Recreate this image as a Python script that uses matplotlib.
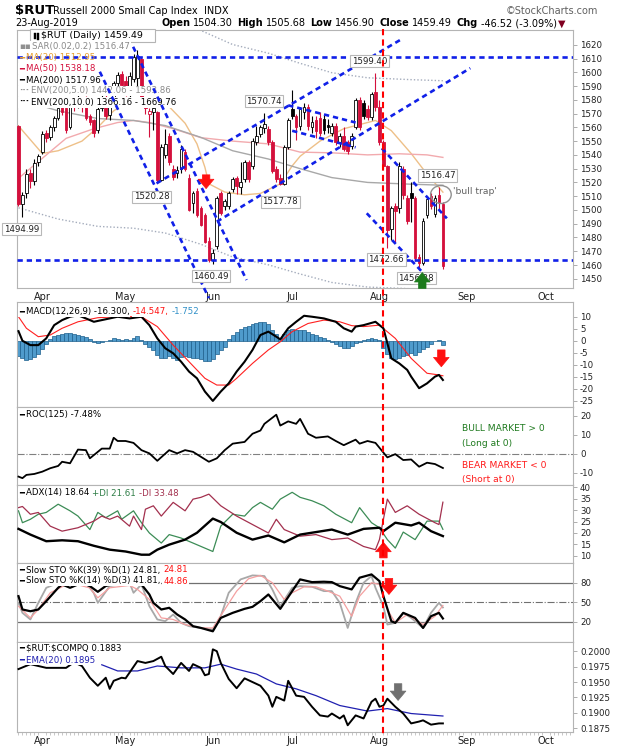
import matplotlib
matplotlib.use('Agg')
import matplotlib.pyplot as plt
import matplotlib.transforms as mtransforms
from matplotlib.patches import Rectangle, Ellipse
from matplotlib.lines import Line2D

plt.rcParams['font.family'] = ['DejaVu Sans']
plt.rcParams['axes.unicode_minus'] = False

W, H = 620, 750

# ------------------------------------------------------------------ data
# trading-day index 0 = 22-Mar-2019 ... 107 = 23-Aug-2019
opens = [1561, 1504, 1512, 1527, 1521, 1535, 1542, 1556, 1553, 1560,
         1567, 1578, 1574, 1560, 1577, 1577, 1580, 1580, 1568, 1565,
         1558, 1574, 1582, 1569, 1576, 1592, 1599, 1594, 1585, 1595,
         1596, 1610, 1580, 1570, 1571, 1571, 1522, 1540, 1554, 1530,
         1527, 1529.6, 1542, 1523.5, 1505, 1513.7, 1501.6, 1496.7, 1477.2, 1464,
         1473.5, 1512.5, 1502.8, 1502.8, 1515, 1523.5, 1517, 1522.3, 1534.5, 1532,
         1549, 1555, 1559.6, 1558.8, 1549, 1529.6, 1523.5, 1518.6, 1545.4, 1573.4,
         1568.6, 1561, 1571, 1575, 1560, 1565, 1567, 1566, 1562, 1556,
         1561, 1549, 1554, 1549, 1546.5, 1560, 1579.5, 1578, 1573.4, 1567.4,
         1585.6, 1574.7, 1549, 1532, 1486, 1503, 1501.6, 1530, 1509, 1512,
         1508.9, 1466, 1461.3, 1496, 1510, 1497, 1510.5, 1504.30]
highs = [1562, 1513, 1530, 1530, 1537, 1541, 1557, 1558, 1562, 1568,
         1576, 1580, 1576, 1578, 1581, 1585, 1582, 1583, 1570, 1566,
         1575, 1584, 1584, 1578, 1594, 1600, 1601, 1597, 1600, 1613,
         1616, 1611, 1582, 1574, 1577, 1572, 1548, 1559, 1556, 1533,
         1532, 1547, 1544, 1526, 1514, 1516, 1503, 1498, 1480, 1472,
         1510, 1514, 1508, 1514, 1524, 1525, 1534.5, 1536, 1536, 1552,
         1561, 1562, 1570.74, 1561, 1551, 1532, 1526, 1547, 1567, 1587,
         1570, 1575, 1578, 1577, 1568, 1568, 1571, 1569, 1566, 1563,
         1563, 1556, 1560, 1551, 1556, 1581, 1582, 1580, 1576, 1586,
         1599.4, 1580, 1551, 1533, 1503, 1505, 1535, 1532, 1511, 1520,
         1510, 1468, 1494, 1510, 1512, 1511, 1516.47, 1505.68]
lows = [1503, 1494.99, 1509, 1516, 1518, 1532, 1541, 1549, 1551, 1557,
        1565, 1569, 1556, 1559, 1572, 1574, 1571, 1565, 1562, 1553,
        1556, 1572, 1566, 1565, 1575, 1590, 1588, 1583, 1582, 1593,
        1590, 1578, 1570, 1553, 1558, 1520.28, 1521, 1538, 1533, 1522,
        1523, 1527, 1528, 1499, 1498, 1495, 1488, 1476, 1462, 1460.49,
        1472, 1496, 1500, 1501, 1513, 1511.5, 1511.5, 1520, 1520, 1530,
        1547, 1553, 1556, 1547, 1527, 1520, 1517.78, 1518, 1544, 1566,
        1551, 1558, 1566, 1558, 1556, 1552, 1554, 1555, 1556, 1554,
        1547, 1546, 1543, 1541, 1544, 1559, 1558, 1566, 1565, 1565,
        1572, 1547, 1530, 1472.66, 1478, 1477, 1498, 1508, 1490, 1491,
        1463, 1456.28, 1460, 1494, 1501, 1495, 1500, 1456.90]
closes = [1504.5, 1511, 1526, 1521, 1534, 1539, 1555, 1552, 1560, 1567,
          1574, 1571, 1558, 1576, 1575, 1580, 1578, 1567, 1564, 1556,
          1573, 1582, 1568, 1575, 1592, 1598, 1591, 1585, 1597, 1611,
          1612, 1580, 1574, 1572, 1574, 1521.5, 1546, 1548, 1534.5, 1524,
          1529, 1544, 1530, 1500.3, 1512.5, 1496.7, 1489.4, 1477, 1463.8, 1468.7,
          1509, 1498, 1506.4, 1512.5, 1522.3, 1517.4, 1520, 1534.5, 1522.3, 1550.3,
          1554, 1560, 1562.5, 1549, 1528.4, 1522.3, 1518.6, 1545.4, 1565, 1568.5,
          1560, 1573, 1575, 1561, 1564, 1557, 1556, 1558, 1560, 1561,
          1549, 1554, 1544, 1543, 1554, 1579.5, 1560, 1568.6, 1567.4, 1584.4,
          1574.7, 1549, 1532, 1485.7, 1501.6, 1499.5, 1532, 1511, 1492, 1509,
          1465, 1461.3, 1492.3, 1507.7, 1503, 1509, 1506.01, 1459.49]
prior_close = 1560.8

month_idx = [6, 27, 49, 69, 91, 113, 133]
month_lbl = ['Apr', 'May', 'Jun', 'Jul', 'Aug', 'Sep', 'Oct']

ma20_idx = [0, 6, 10, 16, 20, 24, 29, 33, 38, 42, 45, 47, 48, 52, 57, 61, 66, 69, 71, 76, 82, 90, 94, 99, 103, 107]
ma20_val = [1561, 1541, 1543, 1550, 1560, 1572, 1581, 1578, 1575, 1563, 1548, 1531, 1519, 1513, 1511, 1512,
            1519, 1532, 1539, 1550, 1559, 1565, 1557.6, 1541, 1526, 1512.95]
ma50_idx = [0, 12, 19, 25, 29, 33, 39, 46, 54, 63, 71, 79, 88, 96, 103, 107]
ma50_val = [1523, 1552, 1559, 1563.5, 1565, 1563.5, 1559, 1552.5, 1550, 1548, 1542, 1541.5, 1540, 1540.8, 1540, 1538.18]
ma200_idx = [0, 10, 20, 29, 37, 46, 54, 63, 71, 79, 88, 99, 107]
ma200_val = [1580.6, 1572, 1566.4, 1565, 1561.3, 1552.7, 1543, 1537, 1530, 1523.5, 1520, 1518.7, 1517.96]

macd_idx = [0, 1, 3, 5, 7, 9, 11, 13, 15, 17, 19, 21, 23, 25, 28, 31, 33, 35, 37, 39, 41, 43, 45, 47, 49,
            51, 53, 55, 57, 59, 61, 63, 65, 66, 68, 70, 72, 74, 77, 80, 82, 84, 85, 87, 90, 92, 94, 96,
            98, 99, 101, 103, 105, 106, 107]
macd_val = [4, 0, -1.8, -1.8, 1, 6.5, 8.6, 10, 10.6, 9.3, 7.9, 8.6, 9.3, 10, 9.3, 10, 6.5, 1, -3.1, -5.2,
            -8.7, -12.8, -15.6, -21.1, -25, -21.1, -17.7, -12.8, -8.7, -3.8, 2.4, 3.8, 1.7, 0.6, 5.2, 7.9,
            10.4, 10, 9.3, 7.9, 5.2, 3.8, 5.9, 6.5, 7.9, 5.2, -7.3, -9.4, -12.1, -14.9, -19.7, -17.7,
            -14.9, -14.2, -16.3]
signal_idx = [0, 2, 5, 8, 11, 15, 20, 25, 31, 35, 39, 43, 47, 50, 53, 55, 59, 63, 66, 69, 73, 77, 81, 84,
              87, 91, 95, 99, 103, 106, 107]
signal_val = [10, 5.2, 1.7, 2.4, 5.2, 7.9, 9.6, 10, 10, 5.9, -1.8, -8.7, -15.6, -18.4, -18.4, -15.6, -9.4,
              -3.8, -0.4, 3.8, 7.2, 8.6, 7.9, 6.3, 5.9, 6.5, 1, -7.3, -13.5, -14.2, -14.547]
macd_hist = [-6.5, -7.2, -7.9, -7.5, -6.8, -5.5, -3.5, -1.5, 0.6, 1.8,
             2.6, 3.0, 3.2, 3.1, 2.9, 2.6, 2.1, 1.6, 0.9, -0.5,
             -1.0, -0.6, -0.2, 0.4, 1.0, 0.8, 0.5, 0.9, 0.3, 1.0,
             1.8, 0.5, -1.2, -2.6, -4.0, -6.0, -7.3, -7.0, -6.3, -7.0,
             -7.8, -6.9, -6.5, -6.8, -7.2, -7.0, -7.6, -8.4, -8.2, -7.5,
             -5.5, -4.0, -2.5, 0.8, 2.6, 3.8, 5.0, 5.8, 6.2, 6.8,
             7.2, 7.8, 8.0, 6.8, 4.6, 2.8, 1.2, 3.0, 4.4, 4.8,
             4.6, 4.6, 4.3, 3.5, 3.0, 2.4, 1.6, 1.0, 0.5, -0.6,
             -1.4, -2.2, -3.0, -3.0, -2.0, -1.0, -0.4, 0.4, 0.7, 1.0,
             0.8, 0.2, -3.0, -5.5, -7.0, -7.6, -7.0, -6.3, -5.8, -5.0,
             -5.8, -4.8, -3.6, -2.5, -1.3, 0.0, 0.3, -1.752]

roc_idx = [0, 1, 2, 4, 6, 8, 10, 11, 13, 15, 17, 18, 19, 21, 23, 24, 25, 27, 29, 31, 33, 35, 38, 40, 42,
           44, 46, 48, 50, 52, 54, 57, 59, 61, 62, 65, 66, 68, 70, 71, 73, 75, 78, 80, 82, 85, 86, 88, 90,
           93, 95, 97, 99, 101, 103, 105, 107]
roc_val = [-12, -12.8, -11.1, -10.6, -9.4, -7.6, -6.4, -4.2, -5, 2.2, 1.9, -2.4, -0.7, 2.7, 2.7, 8.4, 6.7,
           6.7, 5.7, 1.9, 0.2, -3.7, 1.9, 0.2, 1.9, 1.0, -1.6, -4.2, -2.4, 1.9, 5.3, 6.2, 10.5, 12.2, 15.7,
           20.5, 14.8, 17, 15.7, 18.3, 10.5, 8.4, 9.1, 6.7, 4.5, 7.4, 5.3, 6.7, 5.7, -1.9, -0.2, -3.3, -3.0,
           -6.8, -4.7, -5.4, -7.48]

adx_idx = [0, 3, 7, 11, 15, 19, 23, 27, 31, 33, 35, 38, 42, 45, 49, 51, 55, 59, 63, 67, 71, 75, 79, 83,
           87, 91, 92, 95, 99, 101, 104, 107]
adx_val = [21.8, 19.3, 16.4, 16.8, 16.4, 14.4, 12.7, 11.9, 10.5, 10.5, 12.7, 14.9, 17.1, 20.1, 26.3, 24.8,
           20.1, 17.1, 18.9, 15.9, 19.3, 20.4, 21.5, 19.3, 21.8, 22.3, 20.8, 24.5, 23.3, 24.5, 20.8, 18.64]
pdi_idx = [0, 1, 3, 5, 7, 10, 13, 15, 18, 20, 22, 25, 26, 29, 31, 33, 36, 38, 41, 44, 49, 51, 54, 57, 59,
           61, 64, 66, 69, 71, 74, 77, 80, 84, 86, 89, 91, 93, 95, 97, 100, 103, 106, 107]
pdi_val = [29.7, 24.5, 26, 28.2, 29, 32.6, 29.7, 27.4, 21.5, 29, 26.7, 29.7, 26, 29.7, 24.5, 20, 15.6, 19.3,
           17.8, 15.6, 11.9, 23, 28.2, 27.4, 31.1, 33.4, 30.4, 34.8, 37.8, 35.6, 34.1, 31.9, 28.2, 24.5,
           31.1, 24.5, 22.3, 17.1, 13.4, 20.4, 17.1, 25.2, 25.2, 21.61]
mdi_idx = [0, 1, 3, 5, 8, 11, 15, 19, 21, 23, 25, 28, 29, 31, 32, 34, 36, 39, 42, 44, 46, 48, 51, 55, 59,
           63, 65, 67, 71, 75, 79, 83, 87, 90, 91, 93, 95, 98, 101, 105, 106, 107]
mdi_val = [31.1, 31.6, 28.2, 29, 23, 20.8, 22.3, 25.2, 27.4, 26, 27.4, 23, 27.4, 21.5, 30.4, 31.9, 27.4,
           33.4, 29.7, 34.8, 35.6, 37, 31.9, 27.4, 23.7, 20, 26, 21.5, 18.6, 19.3, 17.1, 17.8, 14.1, 12.7,
           17.1, 34.8, 29, 31.9, 28.2, 24.5, 23.7, 33.48]

sto39_idx = [0, 1, 3, 5, 7, 10, 11, 13, 16, 18, 20, 22, 25, 28, 31, 33, 34, 36, 38, 40, 42, 44, 46, 49, 51,
             54, 57, 59, 61, 63, 66, 69, 71, 74, 77, 79, 81, 84, 86, 89, 91, 92, 94, 95, 97, 100, 102, 104,
             106, 107]
sto39_val = [59.3, 38.7, 36, 38.7, 51.6, 72.2, 77.4, 72.2, 80, 74.8, 66, 75, 80, 77.4, 77.4, 61.9, 49, 38.7,
             41.3, 31, 23.3, 12.9, 10.2, 5, 25.7, 33.5, 39.7, 42.8, 51.6, 61.9, 39.7, 67.1, 85.2, 81, 81.6,
             81, 74.8, 69.7, 87.8, 92.9, 82.6, 59.3, 20.6, 18, 33.5, 25.7, 10.2, 28.3, 33.5, 24.81]
sto14k_idx = [0, 1, 3, 5, 7, 12, 17, 19, 20, 23, 28, 29, 31, 33, 35, 37, 39, 41, 43, 46, 49, 51, 53, 56, 59,
              62, 64, 66, 69, 71, 74, 77, 79, 81, 83, 85, 87, 89, 90, 92, 93, 95, 97, 99, 102, 104, 106, 107]
sto14k_val = [49, 33.5, 23.3, 49, 72.2, 85, 80, 64, 49, 74.8, 80, 64.5, 77.4, 43.8, 23.3, 20.6, 31, 18, 12.9,
              10.2, 7.6, 28.3, 64.5, 85.2, 91.4, 90.4, 69.7, 43.8, 72.2, 74.8, 73.8, 67.1, 67.1, 49, 10.2,
              49, 80, 90.4, 72.2, 43.8, 15.4, 18, 33.5, 25.7, 10.2, 33.5, 49, 41.81]
sto14d_idx = [0, 3, 5, 8, 13, 18, 20, 23, 28, 30, 33, 36, 39, 42, 46, 49, 52, 55, 58, 61, 64, 67, 69, 72,
              75, 78, 81, 84, 86, 89, 91, 93, 95, 98, 100, 102, 105, 107]
sto14d_val = [43.8, 25.7, 38.7, 64.5, 80, 72, 56.7, 72.2, 75.9, 69.7, 54.2, 25.7, 23.3, 15.4, 10.2, 10.2,
              38.7, 67.1, 86.2, 91.4, 80, 54.2, 64.5, 73.8, 73.8, 67.1, 59.3, 28.3, 59.3, 80, 77.4, 38.7, 18,
              30.9, 23.3, 15.4, 28.3, 44.86]

ratio_idx = [0, 3, 7, 12, 14, 16, 18, 20, 22, 23, 24, 26, 27, 30, 32, 34, 36, 37, 39, 41, 43, 44, 46, 47,
             48, 49, 50, 51, 53, 55, 57, 59, 61, 63, 64, 65, 67, 68, 70, 72, 74, 76, 78, 79, 81, 82, 83, 85,
             87, 89, 90, 91, 92, 93, 95, 97, 99, 101, 102, 104, 106, 107]
ratio_val = [0.1971, 0.1979, 0.1973, 0.1973, 0.1982, 0.1976, 0.1957, 0.1944, 0.1957, 0.1939, 0.1952,
             0.1957, 0.1956, 0.1984, 0.1981, 0.1984, 0.1991, 0.1976, 0.1963, 0.1981, 0.1968, 0.1979,
             0.1973, 0.1961, 0.1963, 0.2003, 0.2000, 0.1981, 0.1955, 0.1940, 0.1956, 0.1950, 0.1944,
             0.1928, 0.1910, 0.1926, 0.1920, 0.1952, 0.1928, 0.1926, 0.1910, 0.1896, 0.1894, 0.1899,
             0.1891, 0.1896, 0.1880, 0.1896, 0.1891, 0.1918, 0.1923, 0.1910, 0.1912, 0.1923, 0.1910,
             0.1899, 0.1883, 0.1886, 0.1888, 0.1881, 0.1883, 0.1883]
ema_idx = [21, 25, 30, 35, 41, 47, 51, 55, 60, 65, 70, 75, 81, 88, 93, 99, 107]
ema_val = [0.1978, 0.1968, 0.1968, 0.1976, 0.1973, 0.1973, 0.1979, 0.1971, 0.1963, 0.1947, 0.1939, 0.1928,
           0.1912, 0.1903, 0.1907, 0.1899, 0.1895]

# annotations (chart markup)
trend_lines = [((-0.5, 1611), (139.8, 1611)),
               ((-0.5, 1463.5), (139.8, 1463.5)),
               ((20.5, 1600.4), (48.0, 1436)),
               ((28.9, 1618.5), (57.5, 1449.1)),
               ((34.8, 1519.3), (96.2, 1623.4)),
               ((50.0, 1491.5), (113.9, 1603)),
               ((68, 1576), (85, 1563.5)),
               ((69, 1557.5), (85, 1545.5)),
               ((91.6, 1544.8), (108, 1493.9)),
               ((87.8, 1497.6), (102.1, 1454))]
price_labels = [('1494.99', 0.8, 1486), ('1520.28', 33.6, 1509.5), ('1460.49', 48.5, 1452),
                ('1570.74', 61.9, 1579), ('1517.78', 66.0, 1506), ('1599.40', 88.5, 1608),
                ('1516.47', 105.7, 1525), ('1472.66', 92.7, 1464), ('1456.28', 100.3, 1450.5)]
event_idx = 91.85

# ------------------------------------------------------------------ figure
fig = plt.figure(figsize=(W / 100, H / 100), dpi=100)
fig.patch.set_facecolor('white')
renderer = fig.canvas.get_renderer()

LEFT, RIGHT = 16.5, 573.0


def axrect(top, bottom):
    return [LEFT / W, 1 - bottom / H, (RIGHT - LEFT) / W, (bottom - top) / H]


ax_p = fig.add_axes(axrect(30, 288.3))
ax_m = fig.add_axes(axrect(302.3, 406.7))
ax_r = fig.add_axes(axrect(406.7, 485))
ax_a = fig.add_axes(axrect(485, 562.7))
ax_s = fig.add_axes(axrect(562.7, 642.3))
ax_c = fig.add_axes(axrect(642.3, 732.3))
axes = [ax_p, ax_m, ax_r, ax_a, ax_s, ax_c]
XMIN, XMAX = -0.5, 139.8
for ax in axes:
    ax.set_xlim(XMIN, XMAX)
    for sp in ax.spines.values():
        sp.set_color('#b4b4b4')
        sp.set_linewidth(0.8)
    ax.yaxis.tick_right()
    ax.tick_params(axis='y', which='both', labelsize=6.2, length=3, width=0.6, color='#a0a0a0',
                   pad=2, labelcolor='#202020')
    ax.set_xticks(month_idx)
    ax.tick_params(axis='x', length=0, labelbottom=False)

for ax in (ax_p, ax_c):
    ax.set_xticklabels(month_lbl)
    ax.tick_params(axis='x', labelbottom=True, labelsize=7, pad=3, labelcolor='#202020')
ax_c.set_xticks(list(range(0, 140)), minor=True)
ax_c.tick_params(axis='x', which='minor', length=2, width=0.5, color='#b0b0b0')

RED = '#d4103c'

# ---- price panel
ax_p.set_ylim(1443.1, 1630.7)
ax_p.set_yticks(list(range(1450, 1621, 10)))
prev = [prior_close] + closes[:-1]
for i in range(len(closes)):
    o, h, l, c = opens[i], highs[i], lows[i], closes[i]
    col = RED if c < prev[i] else 'black'
    filled = c < o
    ax_p.plot([i, i], [l, h], color=col, lw=0.8, zorder=3, solid_capstyle='butt')
    lo, hi = min(o, c), max(o, c)
    if hi - lo < 0.5:
        hi = lo + 0.5
    ax_p.add_patch(Rectangle((i - 0.34, lo), 0.68, hi - lo, facecolor=col if filled else 'white',
                             edgecolor=col, lw=0.6, zorder=4))

env5_lo = [0.95 * v for v in ma200_val]
env5_hi = [1.05 * v for v in ma200_val]
env10_lo = [0.90 * v for v in ma200_val]
env10_hi = [1.10 * v for v in ma200_val]
ax_p.plot(ma20_idx, ma20_val, color='#eec088', lw=1.0, zorder=2)
ax_p.plot(ma50_idx, ma50_val, color='#f2aaae', lw=1.0, zorder=2)
ax_p.plot(ma200_idx, ma200_val, color='#a8a8a8', lw=1.0, zorder=2)
for e in (env5_lo, env5_hi):
    ax_p.plot(ma200_idx, e, color='#a4acbc', lw=1.0, ls=(0, (1, 1.5)), zorder=2)
for e in (env10_lo, env10_hi):
    ax_p.plot(ma200_idx, e, color='#404040', lw=1.0, ls=(0, (1, 1.5)), zorder=2)

for (x0, y0), (x1, y1) in trend_lines:
    ax_p.plot([x0, x1], [y0, y1], color='#1020e8', lw=1.9, ls=(0, (2.0, 1.5)), zorder=6,
              clip_on=(y1 > 1440))

for s, xx, yy in price_labels:
    ax_p.text(xx, yy, s, fontsize=6.2, ha='center', va='center', color='#202020', zorder=7,
              bbox=dict(boxstyle='square,pad=0.18', fc='white', ec='#b8b8b8', lw=0.8))

ax_p.add_patch(Ellipse((106.5, 1511.2), 5.2, 13.0, fill=False, ec='#909090', lw=1.0, zorder=7))
ax_p.text(109.6, 1513.5, "'bull trap'", fontsize=6.6, color='#606060', va='center', zorder=7)


def arrow(ax, x, tail, tip, color, scale=9):
    ax.annotate('', xy=(x, tip), xytext=(x, tail), zorder=8, annotation_clip=False,
                arrowprops=dict(arrowstyle='simple,head_width=1.25,head_length=0.75,tail_width=0.6',
                                fc=color, ec=color, lw=0.5, mutation_scale=scale, shrinkA=0, shrinkB=0))


arrow(ax_p, 47.3, 1525.5, 1515.5, '#ff1010')
arrow(ax_p, 101.8, 1443.0, 1454.5, '#1b7a1b')

# ---- MACD
xs = list(range(len(macd_hist)))
ax_m.bar(xs, macd_hist, width=1.0, color='#4f9bcc', edgecolor='#1d5f8c', lw=0.5, zorder=2)
ax_m.plot(signal_idx, signal_val, color='#ff2020', lw=0.8, zorder=3)
ax_m.plot(macd_idx, macd_val, color='black', lw=1.5, zorder=4)
ax_m.set_ylim(-27.4, 16)
ax_m.set_yticks([10, 5, 0, -5, -10, -15, -20, -25])
arrow(ax_m, 106.6, -3.8, -10.8, '#ff1010')

# ---- ROC
ax_r.axhline(0, color='#808080', lw=0.8, ls='-.', zorder=1)
ax_r.plot(roc_idx, roc_val, color='black', lw=1.3, zorder=3)
ax_r.set_ylim(-16.4, 24.7)
ax_r.set_yticks([20, 10, 0, -10])

# ---- ADX
ax_a.plot(pdi_idx, pdi_val, color='#3c8c56', lw=0.9, zorder=2)
ax_a.plot(mdi_idx, mdi_val, color='#a3304e', lw=0.9, zorder=2)
ax_a.plot(adx_idx, adx_val, color='black', lw=1.7, zorder=3)
ax_a.set_ylim(7, 41)
ax_a.set_yticks([40, 35, 30, 25, 20, 15, 10])
arrow(ax_a, 92.0, 9.1, 15.9, '#ff1010')

# ---- STO
ax_s.axhline(80, color='#707070', lw=0.9, zorder=1)
ax_s.axhline(20, color='#707070', lw=0.9, zorder=1)
ax_s.axhline(50, color='#707070', lw=0.8, ls='-.', zorder=1)
ax_s.plot(sto14k_idx, sto14k_val, color='#a8a8a8', lw=1.3, zorder=2)
ax_s.plot(sto14d_idx, sto14d_val, color='#f4a0a0', lw=0.9, zorder=2)
ax_s.plot(sto39_idx, sto39_val, color='black', lw=1.6, zorder=3)
ax_s.set_ylim(-12, 111)
ax_s.set_yticks([80, 50, 20])
arrow(ax_s, 93.4, 86.7, 61.9, '#ff1010')

# ---- ratio
ax_c.plot(ema_idx, ema_val, color='#2020b0', lw=0.9, zorder=2)
ax_c.plot(ratio_idx, ratio_val, color='black', lw=1.4, zorder=3)
ax_c.set_ylim(0.18686, 0.20144)
ax_c.set_yticks([0.2000, 0.1975, 0.1950, 0.1925, 0.1900, 0.1875])
ax_c.set_yticklabels(['%.4f' % v for v in [0.2000, 0.1975, 0.1950, 0.1925, 0.1900, 0.1875]])
arrow(ax_c, 95.7, 0.19473, 0.19202, '#707070')

# ---- red dashed event line across all panels
tr = mtransforms.blended_transform_factory(ax_p.transData, fig.transFigure)
fig.add_artist(Line2D([event_idx, event_idx], [1 - 29 / H, 1 - 736 / H], transform=tr,
                      color='#ff0000', lw=1.5, ls=(0, (3, 2)), zorder=20))


# ------------------------------------------------------------------ texts
def rich(ax, x, y, parts, size=6.2, bg=True, zorder=5):
    fx, fy = x / W, 1 - y / H
    for part in parts:
        s, c, wt = part[0], part[1], part[2]
        gap = part[3] if len(part) > 3 else 3.2
        t = ax.text(fx, fy, s, transform=fig.transFigure, color=c, fontsize=size, fontweight=wt,
                    ha='left', va='center', zorder=zorder, clip_on=False,
                    bbox=dict(boxstyle='square,pad=0.1', fc='white', ec='none') if bg else None)
        bb = t.get_window_extent(renderer=renderer)
        fx += (bb.width + gap) / W
    return fx * W


# header
rich(ax_p, 15, 10.5, [('\\$RUT', 'black', 'bold', 4)], size=9.5, bg=False)
rich(ax_p, 53, 11, [('Russell 2000 Small Cap Index', 'black', 'normal', 6), ('INDX', 'black', 'normal')],
     size=7.0, bg=False)
rich(ax_p, 506, 11, [('\u00a9StockCharts.com', '#606060', 'normal')], size=7.0, bg=False)
rich(ax_p, 15, 23.5, [('23-Aug-2019', 'black', 'normal')], size=7.0, bg=False)
rich(ax_p, 161, 23.5, [('Open', 'black', 'bold', 2.5), ('1504.30', 'black', 'normal', 5),
                       ('High', 'black', 'bold', 2.5), ('1505.68', 'black', 'normal', 5),
                       ('Low', 'black', 'bold', 2.5), ('1456.90', 'black', 'normal', 5),
                       ('Close', 'black', 'bold', 2.5), ('1459.49', 'black', 'normal', 5),
                       ('Chg', 'black', 'bold', 2.5), ('-46.52 (-3.09%)', 'black', 'normal', 1),
                       ('\u25bc', '#800020', 'normal')], size=7.0, bg=False)

# price legend
ax_p.add_patch(Rectangle((30 / W, 1 - 41.5 / H), 125 / W, 12 / H, transform=fig.transFigure,
                         fc='white', ec='#b4b4b4', lw=0.8, zorder=5, clip_on=False))
for k, hgt in enumerate([5, 7]):
    ax_p.add_patch(Rectangle(((33.5 + 3 * k) / W, 1 - (39.5 - (7 - hgt) / 2) / H), 2 / W, hgt / H,
                             transform=fig.transFigure, fc='black', ec='black', lw=0.3, zorder=6,
                             clip_on=False))
rich(ax_p, 41, 35.5, [('\\$RUT (Daily) 1459.49', 'black', 'normal')], size=6.8, bg=False, zorder=6)
legend_rows = [
    (46.5, '\u25aa\u25aa', '#909090', [('SAR(0.02,0.2) 1516.47', '#8a8a8a', 'normal')], True, 5),
    (57.5, '\u2501', '#e8a030', [('MA(20) 1512.95', '#e8a030', 'normal')], False, 7),
    (68.8, '\u2501', RED, [('MA(50) 1538.18', RED, 'normal')], True, 5),
    (80.0, '\u2501', 'black', [('MA(200) 1517.96', 'black', 'normal')], True, 5),
    (91.0, '\u00b7\u00b7\u00b7', '#909090', [('ENV(200,5.0) 1442.06 - 1593.86', '#8a8a8a', 'normal')], True, 5),
    (102.2, '\u00b7\u00b7\u00b7', 'black', [('ENV(200,10.0) 1366.16 - 1669.76', 'black', 'normal')], True, 5),
]
for yy, sw, swc, parts, bg, zo in legend_rows:
    rich(ax_p, 19, yy, [(sw, swc, 'bold', 1.5)] + parts, bg=bg, zorder=zo)

# indicator legends
rich(ax_m, 19, 312, [('\u2501', 'black', 'bold', 1.5), ('MACD(12,26,9) -16.300,', 'black', 'normal'),
                     ('-14.547,', '#ff1010', 'normal'), ('-1.752', '#3090c8', 'normal')])
rich(ax_r, 19, 415, [('\u2501', 'black', 'bold', 1.5), ('ROC(125) -7.48%', 'black', 'normal')])
rich(ax_a, 19, 493, [('\u2501', 'black', 'bold', 1.5), ('ADX(14) 18.64', 'black', 'normal'),
                     ('+DI 21.61', '#2e7d46', 'normal'), ('-DI 33.48', '#a3304e', 'normal')])
rich(ax_s, 19, 570, [('\u2501', 'black', 'bold', 1.5), ('Slow STO %K(39) %D(1) 24.81,', 'black', 'normal'),
                     ('24.81', '#ff1010', 'normal')])
rich(ax_s, 19, 581, [('\u2501', 'black', 'bold', 1.5), ('Slow STO %K(14) %D(3) 41.81,', 'black', 'normal'),
                     ('44.86', '#ff1010', 'normal')])
rich(ax_c, 19, 648.5, [('\u2501', 'black', 'bold', 1.5), ('\\$RUT:\\$COMPQ 0.1883', 'black', 'normal')])
rich(ax_c, 19, 660, [('\u2501', '#2020b0', 'bold', 1.5), ('EMA(20) 0.1895', '#2020b0', 'normal')])

# ROC side notes
for yy, s, c in [(429, 'BULL MARKET > 0', '#1f7a1f'), (443, '(Long at 0)', '#1f7a1f'),
                 (466, 'BEAR MARKET < 0', '#ff1a1a'), (479.5, '(Short at 0)', '#ff1a1a')]:
    rich(ax_r, 462, yy, [(s, c, 'normal')], size=6.6, bg=False)

fig.savefig('out.png', dpi=100, facecolor='white')
